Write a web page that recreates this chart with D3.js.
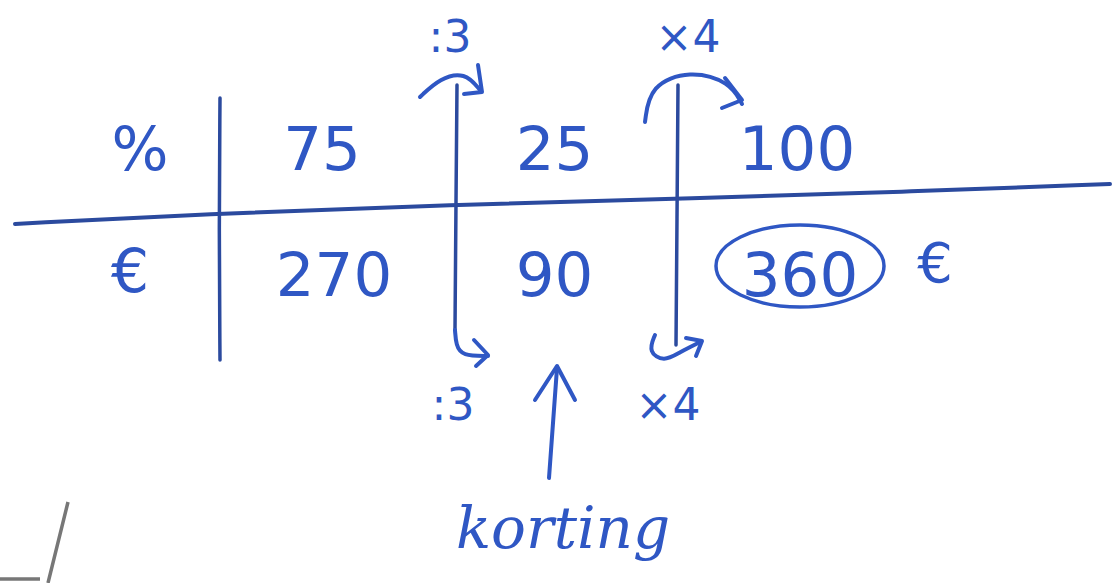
<!DOCTYPE html>
<html><head><meta charset="utf-8">
<script src="https://cdn.jsdelivr.net/npm/d3@7"></script>
<style>body{margin:0;background:#fff;overflow:hidden}svg{display:block}</style>
</head><body>
<script>
// data
const rowLabels = ["%", "€"];
const columns = ["c1", "c2", "c3"];
const percentRow = [75, 25, 100];
const euroRow = [270, 90, 360];
const topOps = [":3", "×4"];
const bottomOps = [":3", "×4"];
const note = "korting";
const unitAfter = "€";

const W = 1113, H = 583;
const blue = "#2f57c4", dark = "#2b4a9e";
const svg = d3.select("body").append("svg").attr("width", W).attr("height", H);

const x = d3.scalePoint().domain(columns).range([322, 797]);
const y = d3.scalePoint().domain(rowLabels).range([150, 272]);
const font = "'DejaVu Sans', sans-serif";
const line = d3.line().curve(d3.curveBasis);

// horizontal line
svg.append("path").attr("d", line([[15,224],[200,214],[450,205],[700,198],[900,192],[1110,184]]))
  .attr("fill","none").attr("stroke",dark).attr("stroke-width",4).attr("stroke-linecap","round");
// vertical dividers
const vlines = [[[220,98],[219,230],[220,360]],[[457,85],[456,200],[455,330]],[[678,85],[677,220],[676,345]]];
vlines.forEach(v => svg.append("path").attr("d", line(v)).attr("fill","none")
  .attr("stroke",dark).attr("stroke-width",3.5).attr("stroke-linecap","round"));

// row labels
svg.selectAll(".rl").data(rowLabels).join("text")
  .attr("x", (d,i)=> i===0?140:130).attr("y", d=>y(d)+ (d==="%"?20:20))
  .attr("text-anchor","middle").attr("font-family",font).attr("font-size",60).attr("fill",blue).text(d=>d);

// values
svg.selectAll(".pv").data(percentRow).join("text")
  .attr("x",(d,i)=>x(columns[i])+(i===0?0:i===1?-5:0)).attr("y",y("%")+20)
  .attr("text-anchor","middle").attr("font-family",font).attr("font-size",61).attr("fill",blue).text(d=>d);
svg.selectAll(".ev").data(euroRow).join("text")
  .attr("x",(d,i)=>x(columns[i])+(i===0?12:i===1?-5:3)).attr("y",y("€")+24)
  .attr("text-anchor","middle").attr("font-family",font).attr("font-size",61).attr("fill",blue).text(d=>d);

// circle around last euro value
svg.append("ellipse").attr("cx",x("c3")+3).attr("cy",y("€")-6).attr("rx",84).attr("ry",41)
  .attr("fill","none").attr("stroke",blue).attr("stroke-width",3.5);
svg.append("text").attr("x",935).attr("y",y("€")+10).attr("text-anchor","middle")
  .attr("font-family",font).attr("font-size",56).attr("fill",blue).text(unitAfter);

const st = s => s.attr("fill","none").attr("stroke",blue).attr("stroke-width",4).attr("stroke-linecap","round").attr("stroke-linejoin","round");

// top arrows
st(svg.append("path").attr("d", line([[420,97],[440,78],[465,72],[480,90]])));
st(svg.append("path").attr("d", "M478,65 L482,92 L464,94"));
st(svg.append("path").attr("d", line([[645,122],[650,85],[690,70],[730,82],[742,104]])));
st(svg.append("path").attr("d", "M725,78 L742,100 L722,108"));
// top labels
svg.selectAll(".to").data(topOps).join("text")
  .attr("x",(d,i)=> i===0?450:688).attr("y",52).attr("text-anchor","middle")
  .attr("font-family",font).attr("font-size",44).attr("fill",blue).text(d=>d);

// bottom arrows
st(svg.append("path").attr("d", line([[455,330],[456,345],[462,356],[488,356]])));
st(svg.append("path").attr("d", "M474,340 L488,355 L476,366"));
st(svg.append("path").attr("d", line([[655,335],[648,352],[664,362],[680,352],[700,342]])));
st(svg.append("path").attr("d", "M686,338 L702,341 L696,356"));
svg.selectAll(".bo").data(bottomOps).join("text")
  .attr("x",(d,i)=> i===0?453:668).attr("y",420).attr("text-anchor","middle")
  .attr("font-family",font).attr("font-size",44).attr("fill",blue).text(d=>d);

// up arrow
st(svg.append("path").attr("d","M549,478 L557,368"));
st(svg.append("path").attr("d","M535,400 L557,366 L575,400"));

// korting
svg.append("text").attr("x",563).attr("y",548).attr("text-anchor","middle")
  .attr("font-family","'DejaVu Serif', serif").attr("font-style","italic")
  .attr("font-size",58).attr("fill",blue).text(note);

// grey mark bottom-left
svg.append("path").attr("d","M68,502 L48,583 M0,579 L40,579").attr("fill","none")
  .attr("stroke","#777").attr("stroke-width",3.5);
</script>
</body></html>
